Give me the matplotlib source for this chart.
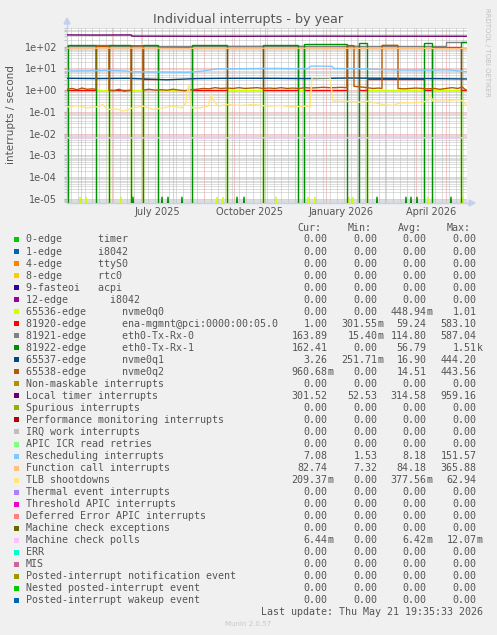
import numpy as np
import matplotlib
matplotlib.use("Agg")
import matplotlib.pyplot as plt
import matplotlib.dates as mdates
from matplotlib.transforms import blended_transform_factory
from matplotlib.patches import Polygon
from datetime import datetime, timedelta

W, H = 497, 635
END = datetime(2026, 5, 21, 19, 35, 33)
START = END - timedelta(days=400)

# ---------------- data (day offset from START, value) ----------------
green_breaks = [0, 1, 29, 42, 64, 76, 91, 125, 160, 196, 231, 237, 280, 292, 300, 357, 365, 394, 400]
green_vals = [0, 125, 0, 120, 0, 118, 0, 120, 0, 122, 0, 128, 0, 140, 0, 140, 0, 162]
green_spikes = [66, 95, 101, 115, 170, 177, 310, 339, 344, 350, 384]

red_breaks = green_breaks
red_vals = [1.0, 1.0, 110, 1.0, 105, 3.2, 100, 1.0, 105, 1.0, 110, 1.0, 110, 1.0, 3.3, 1.0, 100, 1.0]

ygreen_breaks = green_breaks
ygreen_vals = [0, 0, 1.0, 0, 1.0, 0, 1.0, 0, 1.0, 0, 1.0, 0, 0, 0, 1.0, 0, 1.0, 0]
ygreen_spikes = [13, 19, 54, 150, 156, 209, 241, 248, 282, 286, 361, 395]

gray_breaks = [0, 29, 42, 379, 400]
gray_vals = [105, 118, 108, 164]

brown_days = [0, 5, 10, 15, 20, 25, 29, 29, 42, 42, 47, 52, 57, 64, 64, 76, 76, 82, 88, 94, 100, 106,
              112, 118, 124, 130, 136, 142, 148, 154, 160, 166, 172, 178, 184, 190, 196, 202, 208, 214,
              220, 226, 232, 238, 244, 250, 256, 262, 268, 274, 280, 280, 287, 287, 294, 300, 306, 312,
              315, 315, 331, 331, 337, 343, 349, 355, 361, 367, 373, 379, 385, 391, 395, 398, 400]
brown_vals = [1.1, 1.2, 1.05, 1.25, 1.1, 1.15, 1.1, 105, 105, 1.0, 0.95, 1.1, 0.9, 1.0, 110, 110, 1.0,
              1.1, 1.0, 1.05, 1.0, 1.1, 1.0, 0.95, 1.05, 1.1, 1.2, 1.15, 1.3, 1.2, 1.25, 1.2, 1.3, 1.2,
              1.25, 1.3, 1.2, 1.25, 1.2, 1.3, 1.2, 1.25, 1.2, 1.3, 1.25, 1.3, 1.35, 1.3, 1.3, 1.35, 1.3,
              112, 112, 1.5, 1.4, 1.3, 1.2, 1.25, 1.2, 115, 115, 1.2, 1.15, 1.2, 1.25, 1.2, 1.15, 1.2,
              1.1, 1.2, 1.3, 1.2, 1.4, 1.1, 0.96]

nvme1_days = [0, 30, 60, 90, 100, 130, 160, 200, 240, 280, 320, 360, 400]
nvme1_vals = [3.5, 3.4, 3.5, 3.1, 3.0, 3.4, 3.5, 3.5, 3.4, 3.6, 3.5, 3.4, 3.26]

loc_days = [0, 30, 64, 65, 150, 250, 300, 400]
loc_vals = [345, 340, 345, 305, 300, 305, 302, 301.5]

res_days = [0, 20, 40, 60, 64, 90, 120, 135, 150, 180, 210, 240, 244, 265, 267, 290, 330, 360, 380, 400]
res_vals = [7.6, 7.8, 8.2, 7.6, 7.0, 6.8, 6.6, 7.5, 9.5, 9.8, 10, 9.5, 12.8, 12.5, 9.9, 9.8, 8.4, 8.3, 8.6, 7.08]

cal_days = [0, 60, 120, 200, 300, 400]
cal_vals = [85, 86, 84, 85, 84, 82.7]

tlb_days = [1, 10, 20, 30, 36, 40, 50, 56, 66, 76, 86, 96, 106, 115, 119, 120, 122, 123, 125, 133,
            141, 144, 146, 151, 160, 173, 186, 200, 213, 226, 240, 243, 245, 263, 266, 276, 293, 300,
            316, 326, 333, 350, 360, 363, 366, 380, 390, 396, 399]
tlb_vals = [0.171, 0.197, 0.154, 0.171, 0.219, 0.129, 0.138, 0.108, 0.154, 0.184, 0.129, 0.154, 0.184,
            0.154, 0.262, 0.756, 1.83, 0.373, 0.154, 0.154, 0.184, 0.63, 0.373, 0.184, 0.219, 0.197,
            0.219, 0.184, 0.197, 0.171, 0.184, 0.171, 3.71, 3.71, 0.312, 0.312, 0.281, 0.312, 0.219,
            0.197, 0.262, 0.262, 0.312, 0.63, 0.312, 0.312, 0.373, 0.312, 0.21]

mcp_days = [0, 400]
mcp_vals = [6.4e-3, 6.44e-3]

# ---------------- legend ----------------
legend_labels = ["0-edge      timer", "1-edge      i8042", "4-edge      ttyS0", "8-edge      rtc0",
                 "9-fasteoi   acpi", "12-edge       i8042", "65536-edge      nvme0q0",
                 "81920-edge      ena-mgmnt@pci:0000:00:05.0", "81921-edge      eth0-Tx-Rx-0",
                 "81922-edge      eth0-Tx-Rx-1", "65537-edge      nvme0q1", "65538-edge      nvme0q2",
                 "Non-maskable interrupts", "Local timer interrupts", "Spurious interrupts",
                 "Performance monitoring interrupts", "IRQ work interrupts", "APIC ICR read retries",
                 "Rescheduling interrupts", "Function call interrupts", "TLB shootdowns",
                 "Thermal event interrupts", "Threshold APIC interrupts", "Deferred Error APIC interrupts",
                 "Machine check exceptions", "Machine check polls", "ERR", "MIS",
                 "Posted-interrupt notification event", "Nested posted-interrupt event",
                 "Posted-interrupt wakeup event"]
legend_colors = ["#00CC00", "#0066B3", "#FF8000", "#FFCC00", "#330099", "#990099", "#CCFF00", "#FF0000",
                 "#808080", "#008F00", "#00487D", "#B35A00", "#B38F00", "#6B006B", "#8FB300", "#B30000",
                 "#BEBEBE", "#80FF80", "#80C9FF", "#FFC080", "#FFE680", "#AA80FF", "#EE00CC", "#FF8080",
                 "#666600", "#FFBFFF", "#00FFCC", "#CC6699", "#999900", "#00CC00", "#0066B3"]
Z = "0.00"
cur_vals = [Z] * 6 + ["0.00", "1.00", "163.89", "162.41", "3.26", "960.68m", Z, "301.52", Z, Z, Z, Z,
                      "7.08", "82.74", "209.37m", Z, Z, Z, Z, "6.44m", Z, Z, Z, Z, Z]
min_vals = [Z] * 6 + ["0.00", "301.55m", "15.40m", "0.00", "251.71m", "0.00", Z, "52.53", Z, Z, Z, Z,
                      "1.53", "7.32", "0.00", Z, Z, Z, Z, "0.00", Z, Z, Z, Z, Z]
avg_vals = [Z] * 6 + ["448.94m", "59.24", "114.80", "56.79", "16.90", "14.51", Z, "314.58", Z, Z, Z, Z,
                      "8.18", "84.18", "377.56m", Z, Z, Z, Z, "6.42m", Z, Z, Z, Z, Z]
max_vals = [Z] * 6 + ["1.01", "583.10", "587.04", "1.51k", "444.20", "443.56", Z, "959.16", Z, Z, Z, Z,
                      "151.57", "365.88", "62.94", Z, Z, Z, Z, "12.07m", Z, Z, Z, Z, Z]

y_ticks = [1e-5, 1e-4, 1e-3, 1e-2, 1e-1, 1e0, 1e1, 1e2]
y_tick_labels = ["1e-05", "1e-04", "1e-03", "1e-02", "1e-01", "1e+00", "1e+01", "1e+02"]
x_label_months = [(2025, 7), (2025, 10), (2026, 1), (2026, 4)]

# ---------------- figure ----------------
TXT = "#555555"
FLOOR = 2e-6
YMIN, YMAX = 6.5e-6, 7.2e2

fig = plt.figure(figsize=(W / 100, H / 100), dpi=100, facecolor="#F0F0F0")
ax = fig.add_axes([67 / W, 1 - 203 / H, 400 / W, 175 / H])
ax.set_facecolor("white")
ax.set_yscale("log")
ax.set_ylim(YMIN, YMAX)
ax.set_xlim(START, END)


def d2t(days):
    return [START + timedelta(days=float(d)) for d in days]


def step_xy(breaks, vals):
    xs, ys = [], []
    for i, v in enumerate(vals):
        xs += [breaks[i], breaks[i + 1]]
        ys += [v, v]
    return xs, ys


def floor(vals):
    return [v if v > 0 else FLOOR for v in vals]


def draw(xs, ys, color, lw=1.0, z=3):
    ax.plot(d2t(xs), floor(ys), color=color, lw=lw, zorder=z, solid_joinstyle="miter")


def spikes(days, color, z=3):
    for s in days:
        draw([s - 1, s, s + 1], [0, 1.25e-5, 0], color, z=z)


# drawing order as in rrdtool (legend order)
draw(*step_xy(ygreen_breaks, ygreen_vals), "#CCFF00", z=3)
spikes(ygreen_spikes, "#CCFF00", z=3)
draw(*step_xy(red_breaks, red_vals), "#FF0000", z=3.1)
draw(*step_xy(gray_breaks, gray_vals), "#808080", z=3.2)
draw(*step_xy(green_breaks, green_vals), "#008F00", z=3.3)
spikes(green_spikes, "#008F00", z=3.3)
draw(nvme1_days, nvme1_vals, "#00487D", z=3.4)
draw(brown_days, brown_vals, "#B35A00", z=3.5)
draw(loc_days, loc_vals, "#6B006B", z=3.6)
draw(res_days, res_vals, "#80C9FF", z=3.7)
draw(cal_days, cal_vals, "#FFC080", z=3.8)
draw(tlb_days, tlb_vals, "#FFE680", z=3.9)
draw(mcp_days, mcp_vals, "#FFBFFF", z=4.0)

# grid
GRID = "#BDBDBD"
MGRID = "#E89494"
dots = (0, (1, 1))
ax.xaxis.set_major_locator(mdates.MonthLocator())
ax.xaxis.set_minor_locator(mdates.WeekdayLocator(byweekday=mdates.MO))
ax.set_yticks(y_ticks)
ax.set_yticklabels(y_tick_labels)
ax.yaxis.set_minor_locator(matplotlib.ticker.LogLocator(base=10, subs=np.arange(2, 10), numticks=20))
ax.yaxis.set_minor_formatter(matplotlib.ticker.NullFormatter())
ax.grid(True, which="minor", color=GRID, lw=0.72, ls=dots, zorder=1)
ax.grid(True, which="major", color=MGRID, lw=0.72, ls=dots, zorder=1.5)
ax.set_axisbelow(True)
ax.tick_params(axis="x", which="both", length=0, labelbottom=False)
ax.tick_params(axis="y", which="major", length=2, color=MGRID, labelsize=7, labelcolor=TXT, pad=5)
ax.tick_params(axis="y", which="minor", length=2, color=GRID)
for t in ax.get_yticklabels():
    t.set_fontfamily("DejaVu Sans")

for s in ["top", "right"]:
    ax.spines[s].set_visible(False)
AX = "#C4CFF2"
ax.spines["left"].set_color(AX)
ax.spines["bottom"].set_color(AX)
ax.spines["left"].set_linewidth(1)
ax.spines["bottom"].set_linewidth(1)


def P(x, y):
    return (x / W, 1 - y / H)


# axis extensions & arrows
fig.add_artist(plt.Line2D([67 / W, 67 / W], [1 - 28 / H, 1 - 23 / H], color=AX, lw=1))
fig.add_artist(plt.Line2D([467 / W, 470 / W], [1 - 203 / H, 1 - 203 / H], color=AX, lw=1))
fig.add_artist(Polygon([P(64, 24), P(70, 24), P(67, 18)], closed=True, color=AX, transform=fig.transFigure))
fig.add_artist(Polygon([P(469, 200), P(469, 206), P(475, 203)], closed=True, color=AX, transform=fig.transFigure))

# x labels (centered mid-month)
tr = blended_transform_factory(ax.transData, ax.transAxes)
for (yy, mm) in x_label_months:
    dt = datetime(yy, mm, 1) + timedelta(days=15)
    ax.text(mdates.date2num(dt), -9 / 175, datetime(yy, mm, 1).strftime("%B %Y"), transform=tr,
            ha="center", va="center", fontsize=7, color=TXT, family="DejaVu Sans")

# title, labels, watermark
fig.text(*P(248.5, 19), "Individual interrupts - by year", ha="center", va="center", fontsize=9.2,
         color=TXT, family="DejaVu Sans")
fig.text(*P(11, 115), "interrupts / second", ha="center", va="center", rotation=90, fontsize=7.5,
         color=TXT, family="DejaVu Sans")
fig.text(*P(487, 52), "RRDTOOL / TOBI OETIKER", ha="center", va="center", rotation=270, fontsize=5,
         color="#C0C0C0", family="DejaVu Sans")

# legend
MONO = "DejaVu Sans Mono"
FS = 7.2
fig.text(*P(321, 228.3), "Cur:", ha="right", va="center", fontsize=FS, color=TXT, family=MONO)
fig.text(*P(371.5, 228.3), "Min:", ha="right", va="center", fontsize=FS, color=TXT, family=MONO)
fig.text(*P(421.7, 228.3), "Avg:", ha="right", va="center", fontsize=FS, color=TXT, family=MONO)
fig.text(*P(470.5, 228.3), "Max:", ha="right", va="center", fontsize=FS, color=TXT, family=MONO)
col_ends = [327.7, 377.7, 426.7, 476.7]
for i, lab in enumerate(legend_labels):
    y = 239.5 + 12.03 * i
    fig.add_artist(Polygon([P(14, y - 2.5), P(19, y - 2.5), P(19, y + 2.5), P(14, y + 2.5)], closed=True,
                           color=legend_colors[i], transform=fig.transFigure, lw=0))
    fig.text(*P(26, y), lab, ha="left", va="center", fontsize=FS, color=TXT, family=MONO)
    for ce, col in zip(col_ends, [cur_vals, min_vals, avg_vals, max_vals]):
        s = col[i]
        suf = ""
        if s[-1] in "mk":
            s, suf = s[:-1], s[-1]
        fig.text(*P(ce, y), s, ha="right", va="center", fontsize=FS, color=TXT, family=MONO)
        if suf:
            fig.text(*P(ce, y), suf, ha="left", va="center", fontsize=FS, color=TXT, family=MONO)

fig.text(*P(483, 611.7), "Last update: Thu May 21 19:35:33 2026", ha="right", va="center", fontsize=FS,
         color=TXT, family=MONO)
fig.text(*P(248, 624), "Munin 2.0.57", ha="center", va="center", fontsize=5, color="#C8C8C8",
         family="DejaVu Sans")

fig.savefig("out.png", dpi=100, facecolor=fig.get_facecolor())
